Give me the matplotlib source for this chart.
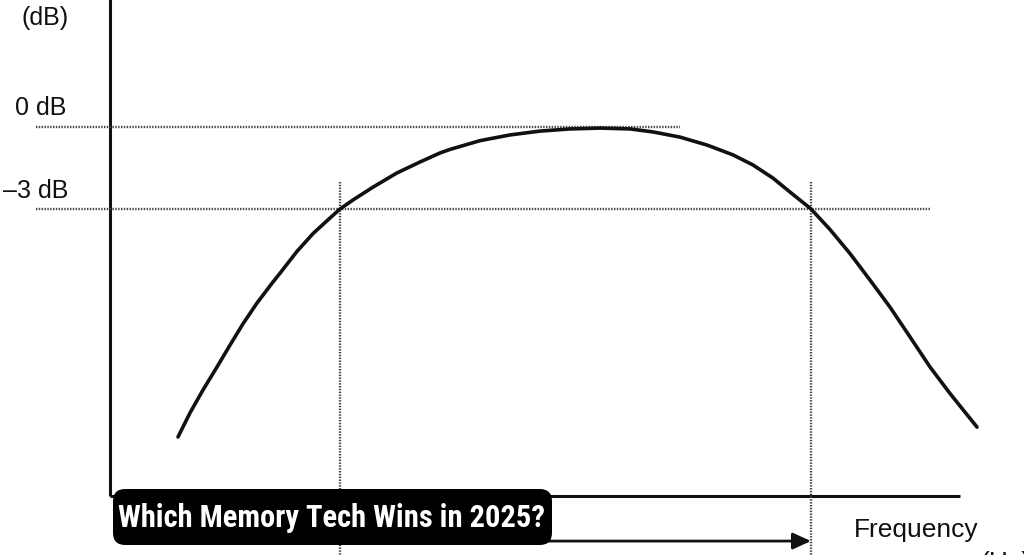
import numpy as np
import matplotlib
matplotlib.use("Agg")
import matplotlib.pyplot as plt
from matplotlib.patches import FancyBboxPatch

# response curve (frequency in arbitrary units, gain in dB)
freq = [0.68, 0.80, 0.93, 1.07, 1.20, 1.33, 1.47, 1.63, 1.70, 1.87, 2.03, 2.20,
        2.30, 2.43, 2.63, 2.87, 3.10, 3.30, 3.40, 3.70, 4.00, 4.30, 4.60, 4.90,
        5.20, 5.43, 5.70, 5.97, 6.23, 6.43, 6.63, 6.80, 6.97, 7.01, 7.20, 7.40,
        7.60, 7.80, 8.00, 8.20, 8.40, 8.67]
gain = [-11.34, -10.46, -9.62, -8.78, -7.98, -7.20, -6.44, -5.67, -5.35, -4.55,
        -3.90, -3.33, -3.00, -2.67, -2.20, -1.68, -1.28, -0.95, -0.82, -0.50,
        -0.29, -0.15, -0.07, -0.04, -0.07, -0.18, -0.37, -0.66, -1.02, -1.39,
        -1.87, -2.38, -2.88, -3.00, -3.75, -4.63, -5.60, -6.59, -7.68, -8.78,
        -9.75, -10.98]

levels = [0, -3]                 # dB reference lines
level_labels = ["0 dB", "\u20133 dB"]
level_ends = [5.70, 8.20]        # where each dotted level line stops
cutoffs = [2.30, 7.01]           # -3 dB frequencies
axis_floor = -13.5
axis_end = 8.5

ink = "#111111"
dots = "#444444"

fig = plt.figure(figsize=(10.24, 5.55), dpi=100)
ax = fig.add_axes([0, 0, 1, 1])
ax.set_xlim(-1.10, 9.14)
ax.set_ylim(-15.66, 4.647)
ax.axis("off")

# axes of the sketch
ax.plot([0, 0], [axis_floor, 4.7], color=ink, lw=2.2, solid_capstyle="butt")
ax.plot([0, axis_end], [axis_floor, axis_floor], color=ink, lw=2.2, solid_capstyle="butt")

# dotted reference lines
for lv, end in zip(levels, level_ends):
    ax.plot([-0.74, end], [lv, lv], color=dots, lw=1.7, ls=(0, (0.6, 0.6)))
for fc in cutoffs:
    ax.plot([fc, fc], [-2.0, -15.8], color=dots, lw=1.7, ls=(0, (0.6, 0.6)))

# response curve
ax.plot(freq, gain, color=ink, lw=2.6, solid_capstyle="round", solid_joinstyle="round")

# bandwidth arrow
ax.annotate("", xy=(cutoffs[1], -15.15), xytext=(cutoffs[0], -15.15),
            arrowprops=dict(arrowstyle="-|>,head_length=1.1,head_width=0.5",
                            color=ink, lw=2.0, shrinkA=0, shrinkB=0))

# texts
fnt = dict(family="Liberation Sans", color=ink)
ax.text(-0.65, 4.0, "(dB)", fontsize=18, ha="center", va="center", **fnt)
ax.text(-0.69, 0.70, level_labels[0], fontsize=18, ha="center", va="center", **fnt)
ax.text(-0.74, 0.65 + levels[1], level_labels[1], fontsize=18, ha="center", va="center", **fnt)
ax.text(8.06, -14.75, "Frequency", fontsize=19, ha="center", va="center", **fnt)
ax.text(8.95, -15.95, "(Hz)", fontsize=19, ha="center", va="center", **fnt)

# caption badge
box = FancyBboxPatch((113 / 1024, 1 - 545 / 555), 439 / 1024, 56 / 555,
                     boxstyle="round,pad=0,rounding_size=0.012",
                     transform=fig.transFigure, facecolor="black", edgecolor="none",
                     mutation_aspect=1024 / 555, zorder=5)
fig.add_artist(box)
fig.text(332 / 1024, 1 - 518 / 555, "Which Memory Tech Wins in 2025?",
         family=["Roboto Condensed", "Roboto", "DejaVu Sans"], weight="bold",
         fontsize=22, color="white", ha="center", va="center", zorder=6)

fig.savefig("out.png", dpi=100)
